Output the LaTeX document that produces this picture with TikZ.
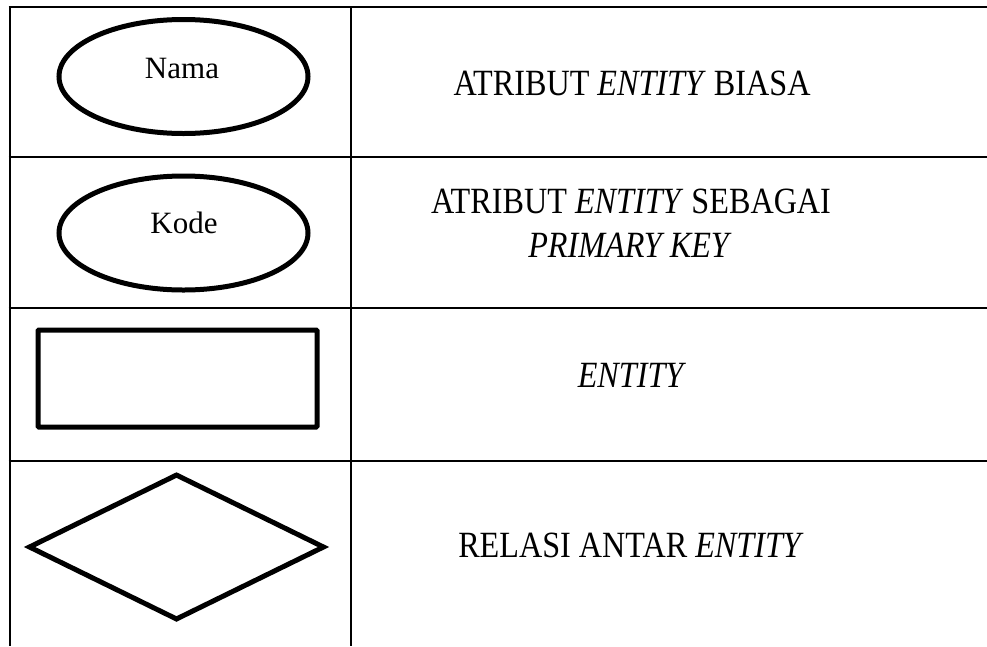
\documentclass[tikz,border=0pt]{standalone}
\usepackage{fontspec}
\setmainfont{Liberation Serif}
\usepackage{tikz}
\usetikzlibrary{shapes.geometric, positioning}
\newcommand{\sempit}[1]{\scalebox{0.87}[1]{#1}}

\begin{document}
\begin{tikzpicture}[x=1pt, y=-1pt,
        garis/.style={line width=2.9pt},
        atribut/.style={ellipse, draw, line width=5pt, minimum width=249pt, minimum height=114pt, inner sep=0pt},
        entitas/.style={rectangle, draw, line width=5pt, rounded corners=1pt, minimum width=279pt, minimum height=97pt, inner sep=0pt},
        relasi/.style={diamond, draw, line width=5pt, minimum width=296pt, minimum height=146pt, inner sep=0pt},
        kecil/.style={anchor=base, inner sep=0pt, font=\fontsize{31}{36}\selectfont},
        ket/.style={anchor=base, inner sep=0pt, font=\fontsize{37}{43}\selectfont}]
        \useasboundingbox (0,0) rectangle (987,646);
        % garis tabel
        \coordinate (kiriA) at (10,7);
        \coordinate (kiriB) at (10,646);
        \coordinate (tengahA) at (351,7);
        \coordinate (tengahB) at (351,646);
        \draw[garis] (kiriA) -- (kiriB);
        \draw[garis] (tengahA) -- (tengahB);
        \foreach \y in {7,157,308,461}
            \draw[garis] (10-1.45,\y) -- (987,\y);
        % simbol
        \node[atribut] (nama) at (183.5,76.5) {};
        \node[kecil] (namaT) at (182,78) {Nama};
        \node[atribut] (kode) at (183.5,233) {};
        \node[kecil] (kodeT) at (184,233) {Kode};
        \node[entitas] (ent) at (177.5,378.5) {};
        \node[relasi] (rel) at (176.5,547) {};
        % keterangan
        \node[ket] (k1) at (632,95) {\sempit{ATRIBUT \textit{ENTITY} BIASA}};
        \node[ket] (k2) at (631,213) {\sempit{ATRIBUT \textit{ENTITY} SEBAGAI}};
        \node[ket] (k3) at (630,257) {\sempit{\textit{PRIMARY KEY}}};
        \node[ket] (k4) at (632,387) {\sempit{\textit{ENTITY}}};
        \node[ket] (k5) at (631,557) {\sempit{RELASI ANTAR \textit{ENTITY}}};
    \end{tikzpicture}
\end{document}
